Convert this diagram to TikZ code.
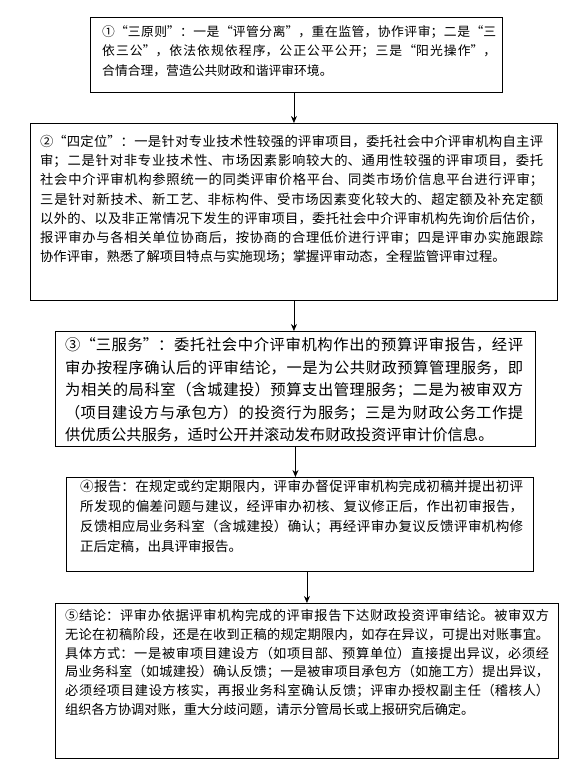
\documentclass[tikz,border=0pt]{standalone}
\usepackage{fontspec}
\setmainfont{Noto Sans CJK SC}
\usetikzlibrary{arrows.meta}
\XeTeXlinebreaklocale "zh"
\XeTeXlinebreakskip=0pt plus 3pt
\tolerance=10000
\hbadness=10000
\tikzset{
  stepbox/.style={draw=black, line width=0.9pt, inner sep=0pt, anchor=north west},
  txt/.style={inner sep=0pt, anchor=north west, align=justify},
  arr/.style={draw=black, line width=0.8pt, -{Stealth[length=7pt,width=6pt]}}
}
\begin{document}
\begin{tikzpicture}[x=1pt,y=-1pt]
\useasboundingbox[fill=white] (0,0) rectangle (579,780);
% boxes
\node[stepbox, minimum width=412pt, minimum height=75pt] (b1) at (90,17) {};
\node[stepbox, minimum width=527pt, minimum height=177pt] (b2) at (30,123) {};
\node[stepbox, minimum width=480pt, minimum height=115pt] (b3) at (55,331) {};
\node[stepbox, minimum width=467pt, minimum height=94pt] (b4) at (66,477) {};
\node[stepbox, minimum width=503pt, minimum height=155pt] (b5) at (55,603) {};
% texts
\node[txt, text width=394pt, font=\fontsize{12.8}{19.4}\selectfont] (t1) at (102,25.3) {①“三原则”：一是“评管分离”，重在监管，协作评审；二是“三\linebreak 依三公”，依法依规依程序，公正公平公开；三是“阳光操作”，\linebreak 合情合理，营造公共财政和谐评审环境。};
\node[txt, text width=503pt, font=\fontsize{13.3}{19.2}\selectfont] (t2) at (40,135) {②“四定位”：一是针对专业技术性较强的评审项目，委托社会中介评审机构自主评\linebreak 审；二是针对非专业技术性、市场因素影响较大的、通用性较强的评审项目，委托\linebreak 社会中介评审机构参照统一的同类评审价格平台、同类市场价信息平台进行评审；\linebreak 三是针对新技术、新工艺、非标构件、受市场因素变化较大的、超定额及补充定额\linebreak 以外的、以及非正常情况下发生的评审项目，委托社会中介评审机构先询价后估价，\linebreak 报评审办与各相关单位协商后，按协商的合理低价进行评审；四是评审办实施跟踪\linebreak 协作评审，熟悉了解项目特点与实施现场；掌握评审动态，全程监管评审过程。};
\node[txt, text width=458pt, font=\fontsize{15.3}{22.5}\selectfont] (t3) at (65,337.5) {③“三服务”：委托社会中介评审机构作出的预算评审报告，经评\linebreak 审办按程序确认后的评审结论，一是为公共财政预算管理服务，即\linebreak 为相关的局科室（含城建投）预算支出管理服务；二是为被审双方\linebreak （项目建设方与承包方）的投资行为服务；三是为财政公务工作提\linebreak 供优质公共服务，适时公开并滚动发布财政投资评审计价信息。};
\node[txt, text width=443pt, font=\fontsize{13.5}{20}\selectfont] (t4) at (80,480.3) {④报告：在规定或约定期限内，评审办督促评审机构完成初稿并提出初评\linebreak 所发现的偏差问题与建议，经评审办初核、复议修正后，作出初审报告，\linebreak 反馈相应局业务科室（含城建投）确认；再经评审办复议反馈评审机构修\linebreak 正后定稿，出具评审报告。};
\node[txt, text width=484pt, font=\fontsize{13.2}{18.7}\selectfont] (t5) at (65,609.4) {⑤结论：评审办依据评审机构完成的评审报告下达财政投资评审结论。被审双方\linebreak 无论在初稿阶段，还是在收到正稿的规定期限内，如存在异议，可提出对账事宜。\linebreak 具体方式：一是被审项目建设方（如项目部、预算单位）直接提出异议，必须经\linebreak 局业务科室（如城建投）确认反馈；一是被审项目承包方（如施工方）提出异议，\linebreak 必须经项目建设方核实，再报业务科室确认反馈；评审办授权副主任（稽核人）\linebreak 组织各方协调对账，重大分歧问题，请示分管局长或上报研究后确定。};
% connectors
\draw[arr] (b1.south -| b2.north) -- (b2.north);
\draw[arr] (b2.south) -- (b2.south |- b3.north);
\draw[arr] (b3.south) -- (b3.south |- b4.north);
\draw[arr] (b4.south -| b5.north) -- (b5.north);
\end{tikzpicture}
\end{document}
